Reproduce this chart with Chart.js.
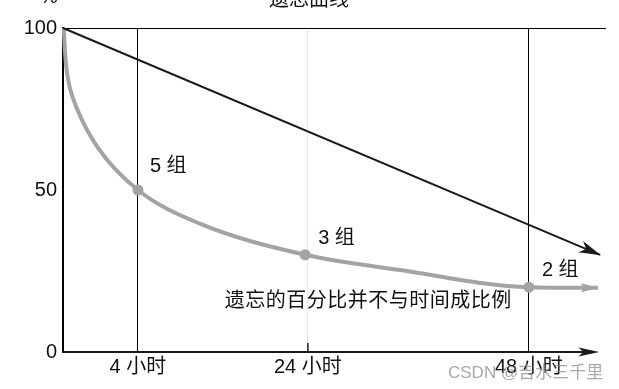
<!DOCTYPE html>
<html><head><meta charset="utf-8">
<script src="https://cdn.jsdelivr.net/npm/chart.js@4.4.1/dist/chart.umd.min.js"></script>
<style>html,body{margin:0;padding:0;background:#fff}canvas{display:block}</style>
</head><body>
<canvas id="c" width="619" height="389"></canvas>
<script>
// ---- data ----
const chartTitle = '遗忘曲线';
const yUnit = '%';
const yTicks = [0, 50, 100];
const tickPositions = [13.8, 45.1, 85.8];          // schematic time axis positions
const tickLabels = ['4 小时', '24 小时', '48 小时'];
const curveX = [0.15, 0.35, 0.64, 1.2, 2.6, 6.45, 13.8, 25.2, 44.6, 62.1, 85.8, 98.5];
const curveY = [100, 93, 87.5, 82, 75, 63, 50, 39.6, 30, 25.3, 20, 19.8];
const groupX = [13.8, 44.6, 85.8];
const groupY = [50, 30, 20];
const groupLabels = ['5 组', '3 组', '2 组'];
const linearX = [0, 98.9];
const linearY = [100, 30];
const noteText = '遗忘的百分比并不与时间成比例';
const noteX = 29.8, noteY = 15.7;
const watermark = 'CSDN @吉水三千里';

const FONT = '"Liberation Sans", "Noto Sans CJK SC", sans-serif';
const GREY = '#a3a3a3';
const INK = '#1a1a1a';

function arrowHead(ctx, x1, y1, x2, y2, len, half, notch, color) {
  const a = Math.atan2(y2 - y1, x2 - x1);
  ctx.save();
  ctx.translate(x2, y2); ctx.rotate(a);
  ctx.beginPath();
  ctx.moveTo(1, 0);
  ctx.lineTo(-len, -half);
  ctx.lineTo(-len + notch, 0);
  ctx.lineTo(-len, half);
  ctx.closePath();
  ctx.fillStyle = color; ctx.fill();
  ctx.restore();
}

const decor = {
  id: 'decor',
  beforeDatasetsDraw(chart) {
    const {ctx, scales: {x, y}} = chart;
    const y0 = y.getPixelForValue(0);
    const xs = x.getPixelForValue(0), xe = x.getPixelForValue(98.6);
    ctx.save();
    ctx.strokeStyle = INK; ctx.lineWidth = 2;
    ctx.beginPath(); ctx.moveTo(xs - 1, y0); ctx.lineTo(xe - 10, y0); ctx.stroke();
    arrowHead(ctx, xs, y0, xe, y0, 20, 4.5, 5, INK);
    // short tick at middle label
    const xm = x.getPixelForValue(tickPositions[1]);
    ctx.lineWidth = 1.5;
    ctx.beginPath(); ctx.moveTo(xm, y0 - 9); ctx.lineTo(xm, y0); ctx.stroke();
    ctx.restore();
  },
  afterDatasetsDraw(chart) {
    const {ctx, scales: {x, y}} = chart;
    ctx.save();
    // arrow on straight line
    const n = linearX.length;
    arrowHead(ctx, x.getPixelForValue(linearX[n-2]), y.getPixelForValue(linearY[n-2]),
      x.getPixelForValue(linearX[n-1]), y.getPixelForValue(linearY[n-1]), 21, 6, 6, INK);
    // arrow on curve
    const m = curveX.length;
    arrowHead(ctx, x.getPixelForValue(curveX[m-2]), y.getPixelForValue(curveY[m-2]),
      x.getPixelForValue(curveX[m-1]), y.getPixelForValue(curveY[m-1]), 17, 4.5, 3, GREY);
    // labels
    ctx.fillStyle = '#111';
    ctx.font = '20px ' + FONT;
    ctx.textBaseline = 'middle'; ctx.textAlign = 'left';
    const offs = [[12, -24], [13, -16], [13, -17]];
    groupLabels.forEach((t, i) => {
      ctx.fillText(t, x.getPixelForValue(groupX[i]) + offs[i][0], y.getPixelForValue(groupY[i]) + offs[i][1]);
    });
    ctx.letterSpacing = '0.5px';
    ctx.fillText(noteText, x.getPixelForValue(noteX), y.getPixelForValue(noteY));
    ctx.restore();
  },
  afterDraw(chart) {
    const {ctx} = chart;
    ctx.save();
    ctx.fillStyle = '#111';
    ctx.font = '20px ' + FONT;
    ctx.textBaseline = 'middle'; ctx.textAlign = 'center';
    ctx.fillText(chartTitle, 309, 0);
    ctx.fillText(yUnit, 49, -3);
    ctx.textAlign = 'left';
    ctx.font = '17px ' + FONT;
    ctx.fillStyle = 'rgba(140,140,140,0.75)';
    ctx.fillText(watermark, 448, 373);
    ctx.restore();
  }
};

new Chart(document.getElementById('c'), {
  type: 'line',
  data: {
    datasets: [
      { data: curveX.map((v, i) => ({x: v, y: curveY[i]})), borderColor: GREY, borderWidth: 4,
        pointRadius: 0, cubicInterpolationMode: 'monotone', clip: false, order: 3 },
      { data: linearX.map((v, i) => ({x: v, y: linearY[i]})), borderColor: INK, borderWidth: 2,
        pointRadius: 0, tension: 0, clip: false, order: 2 },
      { data: groupX.map((v, i) => ({x: v, y: groupY[i]})), showLine: false, pointRadius: 5.5,
        pointBackgroundColor: GREY, pointBorderWidth: 0, clip: false, order: 1 }
    ]
  },
  options: {
    responsive: false, animation: false, devicePixelRatio: 1,
    layout: { padding: { top: 28, right: 13, left: 0, bottom: 0 } },
    plugins: { legend: { display: false }, tooltip: { enabled: false }, title: { display: false } },
    scales: {
      x: {
        type: 'linear', min: 0, max: 100,
        afterBuildTicks: s => { s.ticks = tickPositions.map(v => ({value: v})); },
        afterFit: s => { s.height = 37; },
        ticks: { callback: (v, i) => tickLabels[i], font: { size: 20, family: FONT }, color: '#111',
                 padding: 3, maxRotation: 0, autoSkip: false },
        grid: { color: c => c.index === 1 ? '#e6e6e6' : '#000', lineWidth: 1, drawTicks: false },
        border: { display: false }
      },
      y: {
        min: 0, max: 100,
        afterBuildTicks: s => { s.ticks = yTicks.map(v => ({value: v})); },
        afterFit: s => { s.width = 63; },
        ticks: { font: { size: 20, family: FONT }, color: '#111', padding: 6 },
        grid: { color: c => (c.tick && c.tick.value === 100) ? '#000' : 'rgba(0,0,0,0)', lineWidth: 1, drawTicks: false },
        border: { display: true, color: '#000', width: 2 }
      }
    }
  },
  plugins: [decor]
});
</script>
</body></html>
